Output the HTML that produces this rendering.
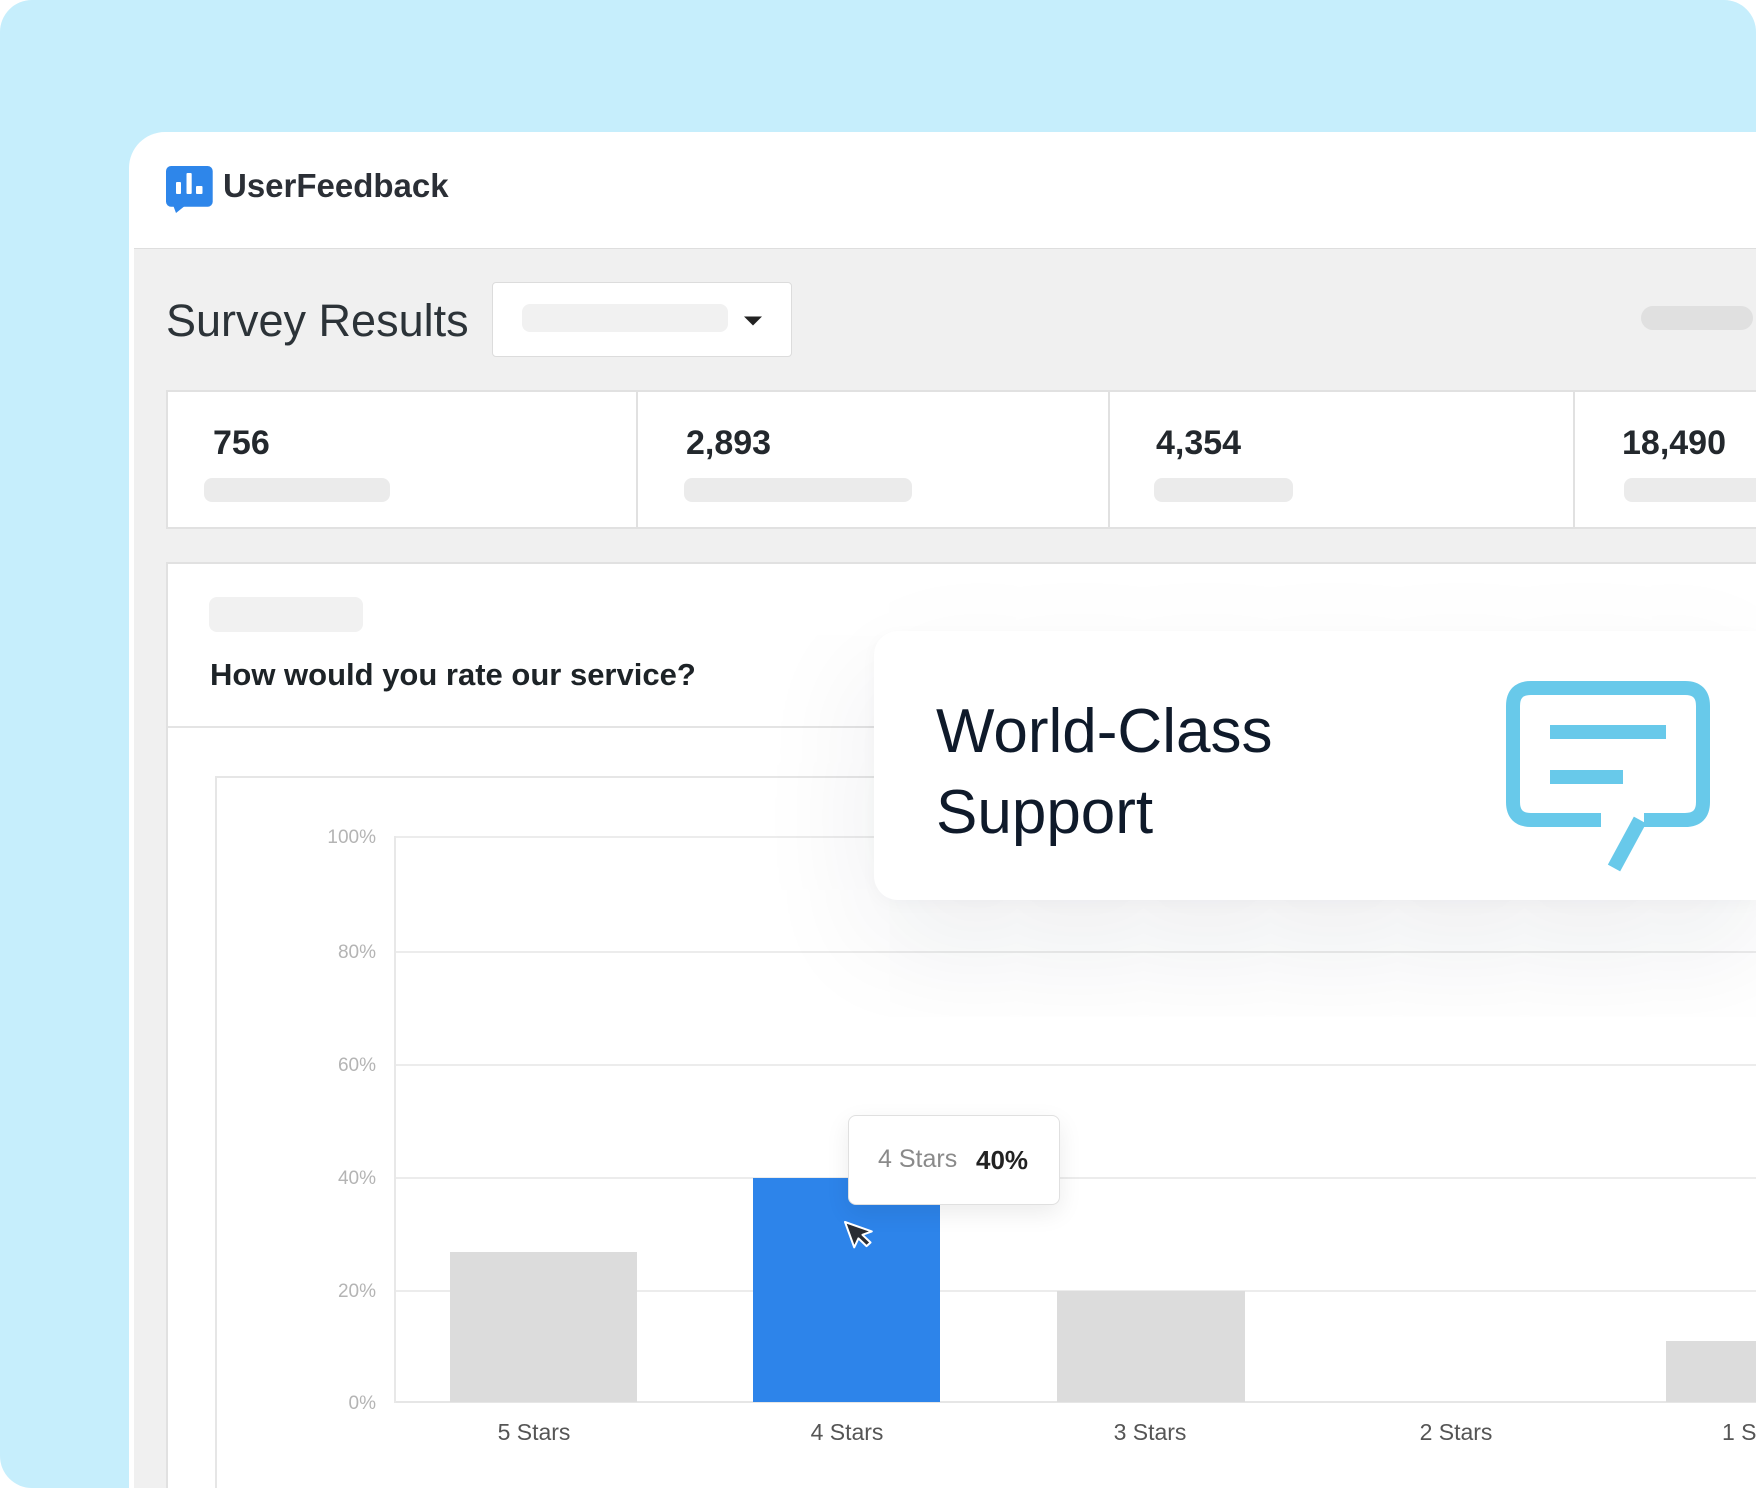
<!DOCTYPE html>
<html style="overflow:hidden;width:1756px;height:1488px;">
<head>
<meta charset="utf-8">
<style>
  html, body { margin:0; padding:0; }
  body { width:1756px; height:1488px; overflow:hidden; background:#ffffff; font-family:"Liberation Sans", Arial, sans-serif; }
  #root { position:relative; width:1756px; height:1488px; overflow:hidden; }
  .abs { position:absolute; }
  .t { position:absolute; line-height:1; white-space:nowrap; }
  #bg { left:0; top:0; width:1756px; height:1488px; background:#c6eefc; border-radius:32px; }
  #panel { left:129px; top:132px; width:1627px; height:1356px; background:#ffffff; border-top-left-radius:36px; }
  #hdrline { left:134px; top:248px; width:1622px; height:1px; background:#dedede; }
  #gray { left:134px; top:249px; width:1622px; height:1239px; background:#f0f0f0; }
  .ph { position:absolute; background:#ebebeb; border-radius:8px; }
  #stats { left:166px; top:390px; width:1590px; height:135px; background:#fff; border:2px solid #e1e1e1; border-right:none; }
  .div { position:absolute; top:392px; width:2px; height:135px; background:#e1e1e1; }
  .num { font-weight:bold; font-size:34px; color:#23282d; }
  #chartcard { left:166px; top:562px; width:1590px; height:924px; background:#fff; border:2px solid #e1e1e1; border-right:none; border-bottom:none; }
  .grid { position:absolute; left:396px; width:1360px; height:2px; background:#ececec; }
  .ylab { font-size:19px; color:#b4b4b4; text-align:right; width:80px; left:296px; }
  .xlab { font-size:23px; color:#555; text-align:center; width:200px; }
  .bar { position:absolute; background:#dcdcdc; }
</style>
</head>
<body>
<div id="root">
<div id="bg" class="abs"></div>
<div id="panel" class="abs"></div>

<!-- logo -->
<svg class="abs" style="left:0;top:0" width="300" height="260" viewBox="0 0 300 260">
  <rect x="166" y="166" width="46.7" height="40.7" rx="5" fill="#2e86ea"/>
  <polygon points="173,205 186,205 176,213" fill="#2e86ea"/>
  <rect x="176" y="182" width="5" height="12" rx="1" fill="#fff"/>
  <rect x="186.5" y="173" width="5.2" height="21" rx="1" fill="#fff"/>
  <rect x="196" y="186" width="6.5" height="8" rx="1" fill="#fff"/>
</svg>
<div class="t" style="left:223px;top:169px;font-size:33px;font-weight:bold;color:#2b2f36;">UserFeedback</div>

<div id="hdrline" class="abs"></div>
<div id="gray" class="abs"></div>

<!-- title row -->
<div class="t" style="left:166px;top:298px;font-size:45px;color:#2c3338;">Survey Results</div>
<div class="abs" style="left:492px;top:282px;width:298px;height:73px;background:#fff;border:1.5px solid #dcdcdc;border-radius:4px;"></div>
<div class="abs" style="left:522px;top:304px;width:206px;height:28px;background:#f1f1f1;border-radius:8px;"></div>
<svg class="abs" style="left:740px;top:312px" width="26" height="18" viewBox="0 0 26 18">
  <polygon points="4,4.5 22,4.5 13,13.5" fill="#222"/>
</svg>
<div class="abs" style="left:1641px;top:306px;width:112px;height:24px;background:#e0e0e0;border-radius:12px;"></div>

<!-- stats -->
<div id="stats" class="abs"></div>
<div class="div" style="left:636px"></div>
<div class="div" style="left:1108px"></div>
<div class="div" style="left:1573px"></div>
<div class="t num" style="left:213px;top:426px;">756</div>
<div class="t num" style="left:686px;top:426px;">2,893</div>
<div class="t num" style="left:1156px;top:426px;">4,354</div>
<div class="t num" style="left:1622px;top:426px;">18,490</div>
<div class="ph" style="left:204px;top:478px;width:186px;height:24px;"></div>
<div class="ph" style="left:684px;top:478px;width:228px;height:24px;"></div>
<div class="ph" style="left:1154px;top:478px;width:139px;height:24px;"></div>
<div class="ph" style="left:1624px;top:478px;width:132px;height:24px;border-radius:8px 0 0 8px;"></div>

<!-- chart card -->
<div id="chartcard" class="abs"></div>
<div class="abs" style="left:209px;top:597px;width:154px;height:35px;background:#f1f1f1;border-radius:8px;"></div>
<div class="t" style="left:210px;top:659px;font-size:31px;font-weight:bold;color:#1d2327;">How would you rate our service?</div>
<div class="abs" style="left:168px;top:726px;width:1588px;height:2px;background:#e4e4e4;"></div>
<div class="abs" style="left:215px;top:776px;width:1539px;height:710px;border-left:2px solid #e6e6e6;border-top:2px solid #e6e6e6;"></div>

<!-- grid -->
<div class="grid" style="top:836px"></div>
<div class="grid" style="top:951px"></div>
<div class="grid" style="top:1064px"></div>
<div class="grid" style="top:1177px"></div>
<div class="grid" style="top:1290px"></div>
<div class="grid" style="top:1401px;background:#e6e6e6;"></div>
<div class="abs" style="left:394px;top:836px;width:2px;height:567px;background:#e8e8e8;"></div>

<div class="t ylab" style="top:828px">100%</div>
<div class="t ylab" style="top:943px">80%</div>
<div class="t ylab" style="top:1056px">60%</div>
<div class="t ylab" style="top:1169px">40%</div>
<div class="t ylab" style="top:1282px">20%</div>
<div class="t ylab" style="top:1394px">0%</div>

<!-- bars -->
<div class="bar" style="left:450px;top:1252px;width:187px;height:150px;"></div>
<div class="bar" style="left:753px;top:1178px;width:187px;height:224px;background:#2d84ea;"></div>
<div class="bar" style="left:1057px;top:1291px;width:188px;height:111px;"></div>
<div class="bar" style="left:1666px;top:1341px;width:90px;height:61px;"></div>

<div class="t xlab" style="left:434px;top:1421px">5 Stars</div>
<div class="t xlab" style="left:747px;top:1421px">4 Stars</div>
<div class="t xlab" style="left:1050px;top:1421px">3 Stars</div>
<div class="t xlab" style="left:1356px;top:1421px">2 Stars</div>
<div class="abs" style="left:1722px;top:1415px;width:34px;height:40px;overflow:hidden;">
  <div class="t" style="left:0;top:6px;font-size:23px;color:#555;">1 Stars</div>
</div>

<!-- tooltip -->
<div class="abs" style="left:848px;top:1115px;width:210px;height:88px;background:#fff;border:1.5px solid #e0e0e0;border-radius:8px;box-shadow:0 8px 24px rgba(0,0,0,0.08);"></div>
<div class="t" style="left:878px;top:1147px;font-size:25px;color:#8a8a8a;">4 Stars</div>
<div class="t" style="left:976px;top:1147px;font-size:26px;font-weight:bold;color:#222;">40%</div>

<!-- cursor -->
<svg class="abs" style="left:840px;top:1217px" width="40" height="44" viewBox="0 0 40 44">
  <polygon points="5,5 5,32 12,25 17,35 22,33 17,23 27,23" fill="#2a2d33" stroke="#ffffff" stroke-width="2" stroke-linejoin="round" transform="rotate(-20 5 5)"/>
</svg>

<!-- world-class card -->
<div class="abs" style="left:874px;top:631px;width:882px;height:269px;background:#fff;border-radius:24px 0 0 24px;box-shadow:0 40px 120px rgba(20,30,60,0.09), 0 4px 16px rgba(20,30,60,0.03);"></div>
<div class="t" style="left:936px;top:701px;font-size:62px;color:#0f1a2a;">World-Class</div>
<div class="t" style="left:936px;top:782px;font-size:62px;color:#0f1a2a;">Support</div>
<svg class="abs" style="left:0;top:0" width="1756" height="1488" viewBox="0 0 1756 1488">
  <path d="M1601,820 L1531,820 Q1513,820 1513,802 L1513,706 Q1513,688 1531,688 L1685,688 Q1703,688 1703,706 L1703,802 Q1703,820 1685,820 L1644,820" fill="none" stroke="#68c9ea" stroke-width="14"/>
  <line x1="1640" y1="820" x2="1614" y2="868" stroke="#68c9ea" stroke-width="14"/>
  <rect x="1550" y="725" width="116" height="14" fill="#68c9ea"/>
  <rect x="1550" y="770" width="73" height="14" fill="#68c9ea"/>
</svg>
</div>
</body>
</html>
